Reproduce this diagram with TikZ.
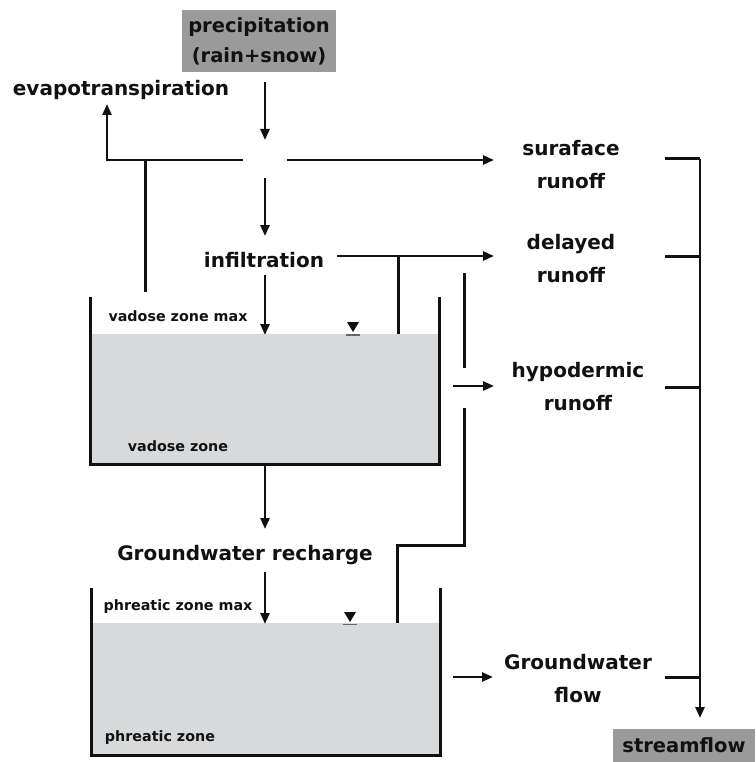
\documentclass[tikz,border=0pt]{standalone}
\usepackage{fontspec}
\setmainfont{DejaVu Sans}
\usetikzlibrary{arrows.meta}
\definecolor{boxgray}{HTML}{9A9A9A}
\definecolor{watergray}{HTML}{D8D9DB}
\definecolor{ink}{HTML}{111111}
\begin{document}
\begin{tikzpicture}[x=1pt,y=-1pt,
  ln/.style={draw=ink,line width=3pt},
  arr/.style={draw=ink,line width=2.4pt,-{Triangle[length=11pt,width=9pt]}},
  lbl/.style={text=ink,font=\bfseries\fontsize{20}{33}\selectfont,align=center,inner sep=0pt},
  sml/.style={text=ink,font=\bfseries\fontsize{14.3}{16}\selectfont,inner sep=0pt},
  graybox/.style={fill=boxgray,draw=none,text=ink,font=\bfseries\fontsize{19.5}{30}\selectfont,align=center,inner sep=0pt},
  water/.style={fill=watergray,draw=none},
  wmark/.style={fill=ink,draw=none},
]
\useasboundingbox (0,0) rectangle (755,762);

% ---- water fills
\fill[water] (90,334) rectangle (439,464);
\fill[water] (91,623) rectangle (440,755);

% ---- text nodes
\node[graybox,minimum width=154pt,minimum height=62pt] (precip) at (259,41) {precipitation\\(rain+snow)};
\node[lbl] (evap) at (121,90) {evapotranspiration};
\node[lbl] (infil) at (264,260) {infiltration};
\node[lbl] (surf) at (571,165) {suraface\\runoff};
\node[lbl] (delay) at (571,259) {delayed\\runoff};
\node[lbl] (hypo) at (578,387) {hypodermic\\runoff};
\node[lbl] (recharge) at (245,555) {Groundwater recharge};
\node[lbl] (gwflow) at (578,679) {Groundwater\\flow};
\node[graybox,minimum width=142pt,minimum height=33pt] (stream) at (684,745.5) {streamflow};
\node[sml] (vmax) at (178,316) {vadose zone max};
\node[sml] (vz) at (178,446) {vadose zone};
\node[sml] (pmax) at (178,607) {phreatic zone max};
\node[sml] (pz) at (160,738) {phreatic zone};

% ---- coordinates
\coordinate (p1) at (265,82);
\coordinate (p2) at (265,140);
\coordinate (jl) at (243,160);
\coordinate (ev0) at (107,160);
\coordinate (ev1) at (107,104);
\coordinate (vl0) at (145,160);
\coordinate (vl1) at (145,292);
\coordinate (jr) at (287,160);
\coordinate (sr) at (494,160);
\coordinate (jd) at (265,178);
\coordinate (in0) at (265,236);
\coordinate (il0) at (337,256);
\coordinate (dr) at (494,256);
\coordinate (iv0) at (398,256);
\coordinate (iv1) at (398,334);
\coordinate (id0) at (265,275);
\coordinate (id1) at (265,335);
\coordinate (vtl) at (90,297);
\coordinate (vbl) at (90,464);
\coordinate (vbr) at (439,464);
\coordinate (vtr) at (439,297);
\coordinate (h0) at (464,273);
\coordinate (h1) at (464,368);
\coordinate (ha0) at (453,386);
\coordinate (ha1) at (494,386);
\coordinate (s0) at (464,408);
\coordinate (s1) at (464,545);
\coordinate (s2) at (397,545);
\coordinate (s3) at (397,623);
\coordinate (r0) at (265,464);
\coordinate (r1) at (265,529);
\coordinate (r2) at (265,572);
\coordinate (r3) at (265,624);
\coordinate (ptl) at (91,588);
\coordinate (pbl) at (91,755);
\coordinate (pbr) at (440,755);
\coordinate (ptr) at (440,588);
\coordinate (g0) at (453,677);
\coordinate (g1) at (493,677);
\coordinate (b1a) at (665,159);
\coordinate (b1b) at (700,159);
\coordinate (b2a) at (665,256);
\coordinate (b2b) at (700,256);
\coordinate (b3a) at (665,387);
\coordinate (b3b) at (700,387);
\coordinate (b4a) at (665,677);
\coordinate (b4b) at (700,677);
\coordinate (send) at (700,718);

% ---- connectors
\draw[arr] (p1) -- (p2);
\draw[arr] (jl) -- (ev0) -- (ev1);
\draw[ln] (vl0) -- (vl1);
\draw[arr] (jr) -- (sr);
\draw[arr] (jd) -- (in0);
\draw[arr] (il0) -- (dr);
\draw[ln] (iv0) -- (iv1);
\draw[arr] (id0) -- (id1);
\draw[ln,line join=miter] (vtl) -- (vbl) -- (vbr) -- (vtr);
\draw[ln] (h0) -- (h1);
\draw[arr] (ha0) -- (ha1);
\draw[ln,line join=miter] (s0) -- (s1) -- (s2) -- (s3);
\draw[arr] (r0) -- (r1);
\draw[arr] (r2) -- (r3);
\draw[ln,line join=miter] (ptl) -- (pbl) -- (pbr) -- (ptr);
\draw[arr] (g0) -- (g1);
\draw[ln] (b1a) -- (b1b);
\draw[ln] (b2a) -- (b2b);
\draw[ln] (b3a) -- (b3b);
\draw[ln] (b4a) -- (b4b);
\draw[arr] (b1b) -- (send);

% ---- water level marks
\fill[wmark] (347,322) -- (359,322) -- (353,332) -- cycle;
\draw[draw=gray!80!black,line width=1.4pt] (346,335) -- (360,335);
\fill[wmark] (344,612) -- (356,612) -- (350,622) -- cycle;
\draw[draw=gray!80!black,line width=1.4pt] (343,624.5) -- (357,624.5);
\end{tikzpicture}
\end{document}
